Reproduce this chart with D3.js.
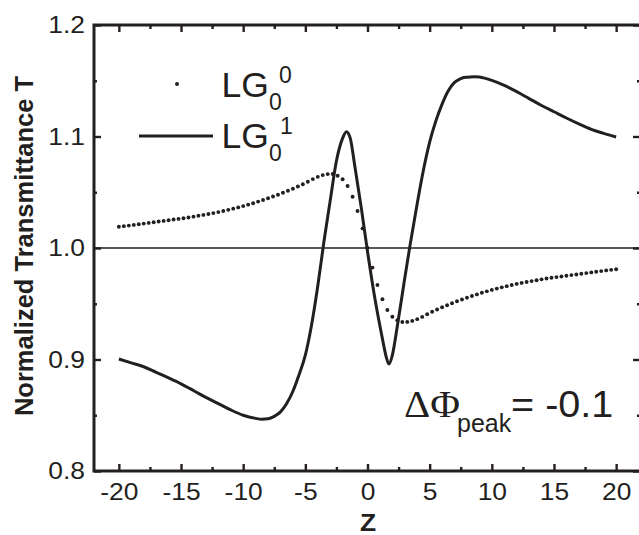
<!DOCTYPE html>
<html><head><meta charset="utf-8">
<script src="https://cdn.jsdelivr.net/npm/d3@7"></script>
<style>html,body{margin:0;padding:0;background:#fff;} svg{display:block;}</style>
</head><body><svg id="c" width="639" height="535"></svg>
<script>
// ---- data ----
const dotZ = [-20,-19.6,-19.2,-18.8,-18.4,-18,-17.6,-17.2,-16.8,-16.4,
  -16,-15.6,-15.2,-14.8,-14.4,-14,-13.6,-13.2,-12.8,-12.4,
  -12,-11.6,-11.2,-10.8,-10.4,-10,-9.6,-9.2,-8.8,-8.4,
  -8,-7.6,-7.2,-6.8,-6.4,-6,-5.6,-5.2,-4.8,-4.4,
  -4,-3.6,-3.2,-2.8,-2.4,-2,-1.6,-1.2,-0.8,-0.4,
  0,
  0.4,0.8,1.2,1.6,2,2.4,2.8,3.2,3.6,4,
  4.4,4.8,5.2,5.6,6,6.4,6.8,7.2,7.6,8,
  8.4,8.8,9.2,9.6,10,10.4,10.8,11.2,11.6,12,
  12.4,12.8,13.2,13.6,14,14.4,14.8,15.2,15.6,16,
  16.4,16.8,17.2,17.6,18,18.4,18.8,19.2,19.6,20];
const dotT = [1.0190,1.0196,1.0201,1.0207,1.0213,1.0219,1.0225,1.0231,1.0237,1.0243,
  1.0249,1.0255,1.0261,1.0267,1.0274,1.0281,1.0289,1.0297,1.0305,1.0313,
  1.0322,1.0332,1.0342,1.0353,1.0364,1.0376,1.0389,1.0402,1.0416,1.0431,
  1.0446,1.0462,1.0478,1.0495,1.0513,1.0532,1.0551,1.0572,1.0594,1.0618,
  1.0638,1.0654,1.0663,1.0664,1.0648,1.0616,1.0556,1.0460,1.0332,1.0176,
  1.0000,
  0.9824,0.9668,0.9540,0.9444,0.9384,0.9352,0.9336,0.9337,0.9346,0.9362,
  0.9382,0.9406,0.9428,0.9449,0.9468,0.9487,0.9505,0.9522,0.9538,0.9554,
  0.9569,0.9584,0.9598,0.9611,0.9624,0.9636,0.9647,0.9658,0.9668,0.9678,
  0.9687,0.9695,0.9703,0.9711,0.9719,0.9726,0.9733,0.9739,0.9745,0.9751,
  0.9757,0.9763,0.9769,0.9775,0.9781,0.9787,0.9793,0.9799,0.9804,0.9810];

const lineZ = [-20,-19,-18,-17,-16,-15,-14,-13,-12,-11,-10,-9,
  -8.5,-8,-7.5,-7,-6.5,-6,-5.5,-5,-4.5,-4,-3.5,-3,-2.5,-2,
  -1.7,-1.4,-1,-0.5,0,
  0.5,1,1.3,1.5,1.72,2,2.4,2.9,3.4,
  4,4.5,5,5.5,6,6.5,7,7.5,8,8.6,9,
  10,11,12,13,14,15,16,17,18,19,20];
const lineT = [0.9004,0.8970,0.8935,0.8885,0.8835,0.8782,0.8722,0.8660,0.8605,0.8548,0.8500,0.8472,
  0.8464,0.8468,0.8490,0.8530,0.8605,0.8715,0.8865,0.9040,0.9310,0.9660,1.0060,1.0425,1.0780,1.0985,
  1.1043,1.0990,1.0720,1.0360,0.9970,
  0.9610,0.9300,0.9130,0.9025,0.8959,0.9040,0.9300,0.9660,1.0010,
  1.0400,1.0700,1.0950,1.1140,1.1290,1.1410,1.1485,1.1520,1.1532,1.1537,1.1533,
  1.1503,1.1458,1.1402,1.1340,1.1278,1.1222,1.1166,1.1113,1.1064,1.1028,1.0995];

const xMajorTicks = [-20,-15,-10,-5,0,5,10,15,20];
const xMinorTicks = [-17.5,-12.5,-7.5,-2.5,2.5,7.5,12.5,17.5];
const xTickLabels = ["-20","-15","-10","-5","0","5","10","15","20"];
const yMajorTicks = [0.8,0.9,1.0,1.1,1.2];
const yMinorTicks = [0.85,0.95,1.05,1.15];
const yTickLabels = ["0.8","0.9","1.0","1.1","1.2"];
const referenceLevel = 1.0;
const seriesNames = ["LG", "LG"];
const seriesSub = ["0", "0"];
const seriesSup = ["0", "1"];
const xTitle = "Z";
const yTitle = "Normalized Transmittance T";
const annotation = {sym: "\u0394\u03A6", sub: "peak", rest: "= -0.1"};

// ---- drawing ----
const ink = "#231f20";
const sans = "'Liberation Sans', Arial, sans-serif";
const svg = d3.select("#c");
const L = 94, R = 641, T = 25, B = 471;
const x = d3.scaleLinear().domain([-22, 22]).range([L, R]);
const y = d3.scaleLinear().domain([0.8, 1.2]).range([B, T]);

// reference line at T = 1
svg.append("line")
  .attr("x1", L).attr("x2", R)
  .attr("y1", y(referenceLevel)).attr("y2", y(referenceLevel))
  .attr("stroke", ink).attr("stroke-width", 1.6);

// solid curve
const lineData = lineZ.map((z, i) => [z, lineT[i]]);
svg.append("path")
  .datum(lineData)
  .attr("fill", "none").attr("stroke", ink).attr("stroke-width", 3)
  .attr("stroke-linejoin", "round")
  .attr("d", d3.line().x(d => x(d[0])).y(d => y(d[1])).curve(d3.curveMonotoneX));

// dots
const dotData = dotZ.map((z, i) => [z, dotT[i]]);
svg.append("g").selectAll("circle").data(dotData).join("circle")
  .attr("cx", d => x(d[0])).attr("cy", d => y(d[1])).attr("r", 1.95).attr("fill", ink);

// frame
svg.append("rect").attr("x", L).attr("y", T).attr("width", R - L).attr("height", B - T)
  .attr("fill", "none").attr("stroke", ink).attr("stroke-width", 3);

function styleAxis(g) {
  g.select(".domain").remove();
  g.selectAll(".tick line").attr("stroke", ink).attr("stroke-width", 2.4);
  g.selectAll("text").attr("fill", ink).attr("font-family", sans).attr("font-size", 24).classed("wide", true);
}

// bottom axis
svg.append("g").attr("transform", `translate(0,${B})`)
  .call(d3.axisBottom(x).tickValues(xMajorTicks).tickSize(-7).tickPadding(12)
    .tickFormat((d, i) => xTickLabels[i])).call(styleAxis);
svg.append("g").attr("transform", `translate(0,${B})`)
  .call(d3.axisBottom(x).tickValues(xMinorTicks).tickSize(-4).tickFormat("")).call(styleAxis);
// top axis
svg.append("g").attr("transform", `translate(0,${T})`)
  .call(d3.axisTop(x).tickValues(xMajorTicks).tickSize(-7).tickFormat("")).call(styleAxis);
svg.append("g").attr("transform", `translate(0,${T})`)
  .call(d3.axisTop(x).tickValues(xMinorTicks).tickSize(-4).tickFormat("")).call(styleAxis);
// left axis
svg.append("g").attr("transform", `translate(${L},0)`)
  .call(d3.axisLeft(y).tickValues(yMajorTicks).tickSize(-7).tickPadding(9)
    .tickFormat((d, i) => yTickLabels[i])).call(styleAxis);
svg.append("g").attr("transform", `translate(${L},0)`)
  .call(d3.axisLeft(y).tickValues(yMinorTicks).tickSize(-3).tickFormat("")).call(styleAxis);
// right axis
svg.append("g").attr("transform", `translate(${R},0)`)
  .call(d3.axisRight(y).tickValues(yMajorTicks).tickSize(-8).tickFormat("")).call(styleAxis);
svg.append("g").attr("transform", `translate(${R},0)`)
  .call(d3.axisRight(y).tickValues(yMinorTicks).tickSize(-4).tickFormat("")).call(styleAxis);

// axis titles
svg.append("text").attr("transform", "translate(33,246) rotate(-90)")
  .attr("text-anchor", "middle").attr("font-family", sans).attr("font-weight", "bold")
  .attr("font-size", 25.5).attr("fill", ink).text(yTitle);
svg.append("text").attr("x", 368).attr("y", 531).attr("text-anchor", "middle")
  .attr("font-family", sans).attr("font-weight", "bold").attr("font-size", 24)
  .attr("fill", ink).classed("wide", true).text(xTitle);

// legend
svg.append("circle").attr("cx", 177).attr("cy", 84).attr("r", 2).attr("fill", ink);
svg.append("line").attr("x1", 139).attr("x2", 213).attr("y1", 136).attr("y2", 136)
  .attr("stroke", ink).attr("stroke-width", 3);
const legBase = [97, 148];
const supX = [279, 280];
legBase.forEach((b, i) => {
  svg.append("text").attr("x", 221.5).attr("y", b).attr("font-family", sans)
    .attr("font-size", 35.5).attr("fill", ink).text(seriesNames[i]);
  svg.append("text").attr("x", 269).attr("y", b + 13).attr("font-family", sans)
    .attr("font-size", 23).attr("fill", ink).text(seriesSub[i]);
  svg.append("text").attr("x", supX[i]).attr("y", b - 14).attr("font-family", sans)
    .attr("font-size", 23).attr("fill", ink).text(seriesSup[i]);
});

// annotation
svg.append("text").attr("x", 404).attr("y", 417)
  .attr("font-family", "'Liberation Serif', 'Times New Roman', serif")
  .attr("font-size", 37).attr("fill", ink).classed("wide", true).text(annotation.sym);
svg.append("text").attr("x", 457).attr("y", 432).attr("font-family", sans)
  .attr("font-size", 25).attr("fill", ink).text(annotation.sub);
svg.append("text").attr("x", 511).attr("y", 417).attr("font-family", sans)
  .attr("font-size", 36).attr("fill", ink).classed("wide", true).text(annotation.rest);

// slight horizontal widening of glyphs, as in the reference
svg.selectAll("text.wide").each(function() {
  const t = d3.select(this);
  if (!t.text()) return;
  const len = this.getComputedTextLength();
  t.attr("textLength", len * 1.1).attr("lengthAdjust", "spacingAndGlyphs");
});
</script></body></html>
